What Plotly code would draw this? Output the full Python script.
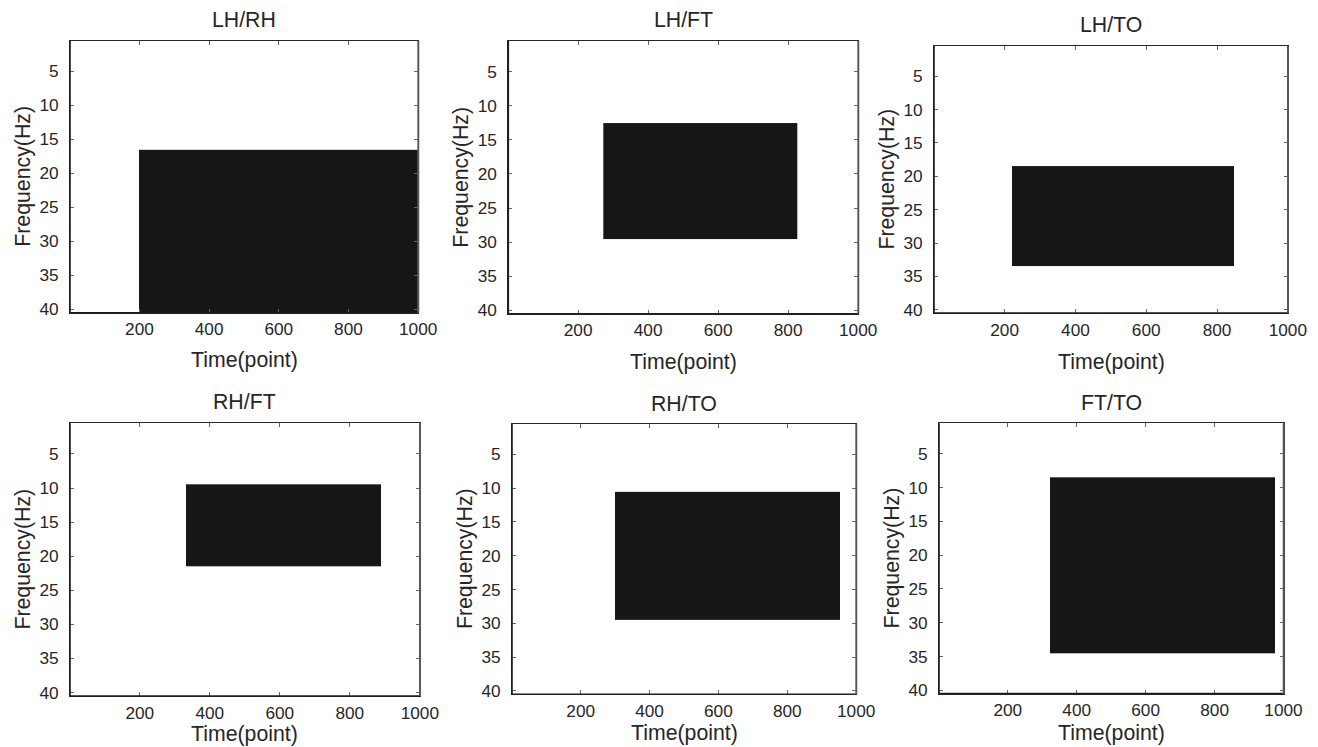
import numpy as np
import plotly.graph_objects as go

W, H = 1318, 747          # reference picture size (pixels)
FX = 1 / 0.986            # compensation for the capture scaling (horizontal)
FY = 1 / 0.990            # compensation for the capture scaling (vertical)
F = FX
FW, FH = round(W * FX), round(H * FY)

# ---- data ----
titles = ["LH/RH", "LH/FT", "LH/TO", "RH/FT", "RH/TO", "FT/TO"]
time_start = [200, 273, 221, 331, 300, 324]
time_end = [1000, 826, 848, 888, 952, 976]
freq_start = [17, 13, 19, 10, 11, 9]
freq_end = [40, 29, 33, 21, 29, 34]
n_time = 1000
n_freq = 40
x_ticks = [200, 400, 600, 800, 1000]
y_ticks = [5, 10, 15, 20, 25, 30, 35, 40]

# ---- layout: panel boxes in reference pixels (left, right, top, bottom) ----
boxes = [
    (70, 418.3, 40.7, 312.3),
    (508.3, 858.3, 41, 313.3),
    (934, 1288, 46, 312.7),
    (70, 420, 422.7, 695),
    (512, 856.3, 423.3, 693.3),
    (939, 1283.7, 422.7, 692.7),
]
title_cy = [20, 20, 25, 401.7, 403, 402.7]
xlabel_cy = [360, 361.7, 361.7, 733.5, 732.5, 732.5]

TXT = "#262626"
FONT = "Liberation Sans, Arial, sans-serif"
BLK = "#161616"


def px_x(p):
    return p / W


def px_y(p):
    return 1 - p / H


fig = go.Figure()
annotations = []
shapes = []

for i, (l, r, t, b) in enumerate(boxes):
    k = i + 1
    xa = "x" if k == 1 else f"x{k}"
    ya = "y" if k == 1 else f"y{k}"
    xedges = sorted(set([0.5, time_start[i] - 0.5, time_end[i] + 0.5, n_time + 0.5]))
    yedges = sorted(set([0.5, freq_start[i] - 0.5, freq_end[i] + 0.5, n_freq + 0.5]))
    xm = [(xedges[j] + xedges[j + 1]) / 2 for j in range(len(xedges) - 1)]
    ym = [(yedges[j] + yedges[j + 1]) / 2 for j in range(len(yedges) - 1)]
    z = [[1 if (time_start[i] <= xc <= time_end[i] and freq_start[i] <= yc <= freq_end[i]) else 0
          for xc in xm] for yc in ym]
    fig.add_trace(go.Heatmap(
        x=xedges, y=yedges, z=z, xaxis=xa, yaxis=ya,
        colorscale=[[0, "white"], [1, BLK]], zmin=0, zmax=1,
        showscale=False, zsmooth=False, hoverinfo="skip",
    ))
    axis_common = dict(
        showgrid=False, zeroline=False, ticks="inside", ticklen=4 * F, tickwidth=1,
        tickcolor="#666666", showline=True, linecolor="#262626", linewidth=1,
        mirror="ticks", tickfont=dict(family=FONT, size=17 * F, color=TXT),
    )
    fig.layout[("xaxis" if k == 1 else f"xaxis{k}")] = dict(
        domain=[px_x(l), px_x(r)], anchor=ya, range=[0.5, n_time + 0.5],
        tickvals=x_ticks, ticklabelstandoff=1, **axis_common)
    fig.layout[("yaxis" if k == 1 else f"yaxis{k}")] = dict(
        domain=[px_y(b), px_y(t)], anchor=xa, range=[n_freq + 0.5, 0.5],
        tickvals=y_ticks, ticklabelstandoff=7, **axis_common)
    # darker/thicker left & bottom frame lines, grey right edge
    shapes.append(dict(type="line", xref=f"{xa} domain", yref=f"{ya} domain",
                       x0=0, x1=0, y0=0, y1=1, line=dict(color="#1e1e1e", width=1.6), layer="above"))
    shapes.append(dict(type="line", xref=f"{xa} domain", yref=f"{ya} domain",
                       x0=0, x1=1, y0=0, y1=0, line=dict(color="#1e1e1e", width=1.6), layer="above"))
    shapes.append(dict(type="line", xref=f"{xa} domain", yref=f"{ya} domain",
                       x0=1, x1=1, y0=0, y1=1, line=dict(color="#5a5a5a", width=2), layer="above"))
    cx = (l + r) / 2
    annotations.append(dict(text=titles[i], x=px_x(cx), y=px_y(title_cy[i]), xref="paper", yref="paper",
                            showarrow=False, xanchor="center", yanchor="middle",
                            font=dict(family=FONT, size=21 * F, color=TXT)))
    annotations.append(dict(text="Time(point)", x=px_x(cx), y=px_y(xlabel_cy[i]),
                            xref="paper", yref="paper", showarrow=False,
                            xanchor="center", yanchor="middle",
                            font=dict(family=FONT, size=21 * F, color=TXT)))
    annotations.append(dict(text="Frequency(Hz)", x=px_x(l - 47), y=px_y((t + b) / 2),
                            xref="paper", yref="paper", showarrow=False, textangle=-90,
                            xanchor="center", yanchor="middle",
                            font=dict(family=FONT, size=21 * F, color=TXT)))

fig.update_layout(
    width=FW, height=FH, margin=dict(l=0, r=0, t=0, b=0),
    paper_bgcolor="white", plot_bgcolor="white",
    showlegend=False, annotations=annotations, shapes=shapes,
)

post = (
    "document.documentElement.style.margin='0';"
    "document.body.style.margin='0';document.body.style.overflow='hidden';"
    "var d=document.getElementById('{plot_id}');"
    "d.style.position='fixed';d.style.left='0px';d.style.top='0px';"
)
fig.write_html("out.html", config={"displayModeBar": False}, post_script=post)
